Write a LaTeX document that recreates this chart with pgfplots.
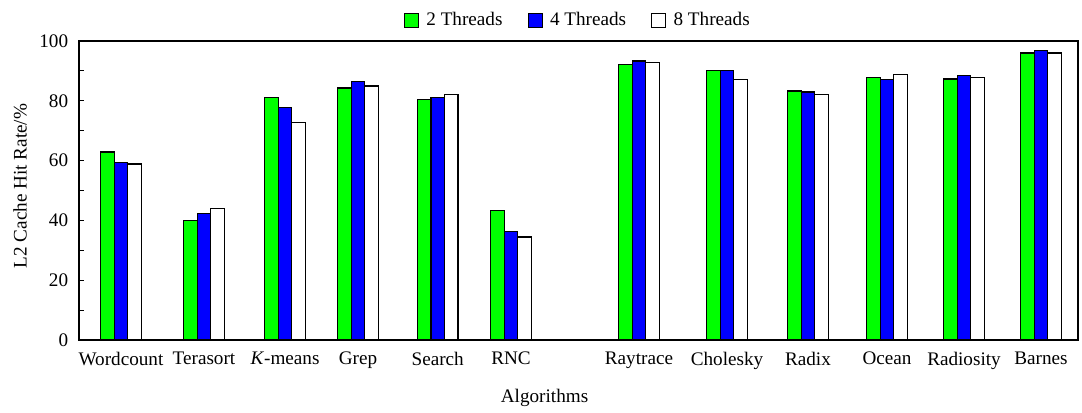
\documentclass[border=0pt]{standalone}
\usepackage{fontspec}
\setmainfont{Liberation Serif}
\usepackage{pgfplots}
\pgfplotsset{compat=1.18}
\begin{document}
\begin{tikzpicture}
\begin{axis}[
  name=ax,
  scale only axis, width=599.4pt, height=179.4pt,
  xmin=79, xmax=1078, ymin=0, ymax=100,
  font=\fontsize{11.5}{13}\selectfont,
  /pgf/number format/assume math mode=true,
  axis line style={line width=0.8pt},
  ybar=0pt, bar width=13.6,
  xtick={121,204,285,358,437.7,511,639,727,808,887,964,1041},
  xticklabels={Wordcount,Terasort,\textit{K}-means,Grep,Search,RNC,Raytrace,Cholesky,Radix,Ocean,Radiosity,Barnes},
  x tick style={draw=none},
  ytick={0,20,...,100}, minor ytick={10,30,...,90},
  ytick pos=left, tick align=inside,
  major tick length=3pt, minor tick length=3pt,
  y tick style={line width=0.6pt, black},
  xticklabel style={yshift=-3.5pt},
  yticklabel style={xshift=-3pt},
  ylabel={L2 Cache Hit Rate/\%},
  ylabel style={at={(axis description cs:-0.059,0.515)}, anchor=center},
  xlabel={Algorithms},
  xlabel style={at={(axis description cs:0.466,-0.194)}, anchor=center},
  legend style={at={(axis description cs:0.5,1.07)}, anchor=center, legend columns=3, draw=none, fill=none,
    /tikz/every odd column/.append style={column sep=2.5pt},
    /tikz/every even column/.append style={column sep=13pt},
    font=\fontsize{11.5}{13}\selectfont},
  legend image code/.code={\draw[#1, line width=0.6pt] (0pt,-4.2pt) rectangle (8.4pt,4.2pt);},
  every axis plot/.append style={draw=black, line width=0.8pt},
]
\addplot[fill={rgb,255:red,0;green,255;blue,0}, bar shift=-13.6] coordinates {
(121,62.9) (204,40.0) (285,81.0) (358,84.3) (437.7,80.5) (511,43.2)
(639,92.2) (727,90.1) (808,83.3) (887,87.8) (964,87.3) (1041,96.0)};
\addplot[fill={rgb,255:red,0;green,0;blue,255}, bar shift=0] coordinates {
(121,59.4) (204,42.2) (285,77.7) (358,86.5) (437.7,81.2) (511,36.2)
(639,93.3) (727,90.1) (808,82.9) (887,87.1) (964,88.5) (1041,96.8)};
\addplot[fill=white, bar shift=13.6] coordinates {
(121,58.9) (204,43.9) (285,72.7) (358,85.0) (437.7,82.2) (511,34.5)
(639,92.7) (727,87.1) (808,82.2) (887,88.9) (964,87.8) (1041,96.0)};
\legend{2 Threads, 4 Threads, 8 Threads}
\end{axis}
\path ([shift={(-47.4pt,-40.8pt)}]ax.south west) rectangle ([shift={(2.4pt,24.6pt)}]ax.north east);
\end{tikzpicture}
\end{document}
